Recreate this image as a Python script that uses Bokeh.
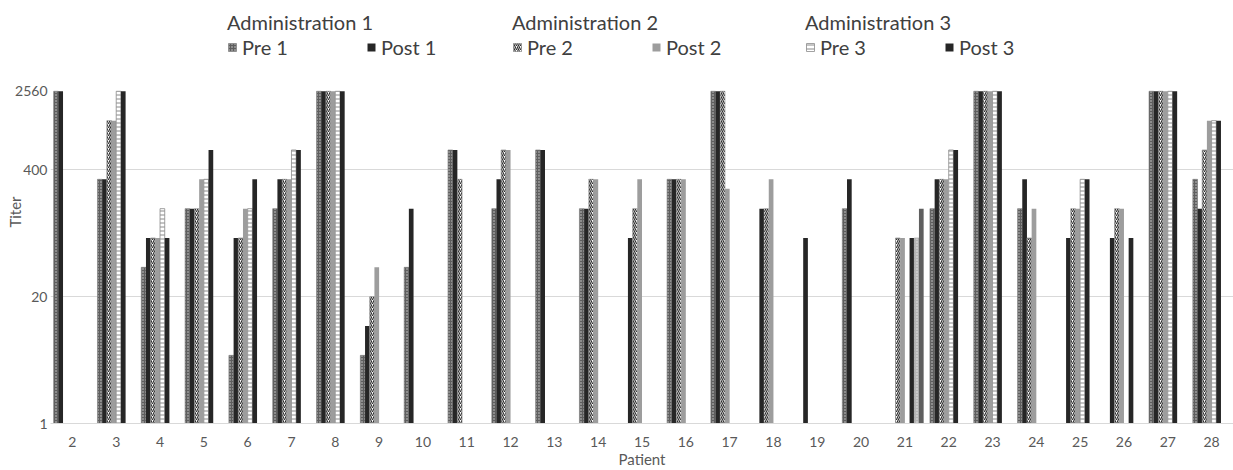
from bokeh.plotting import figure
from bokeh.models import (ColumnDataSource, FactorRange, Range1d, FixedTicker,
                          NumeralTickFormatter, Legend, LegendItem)
from bokeh.transform import dodge
from bokeh.embed import file_html
from bokeh.resources import INLINE

# Patients on the x axis
patients = ["2", "3", "4", "5", "6", "7", "8", "9", "10", "11", "12", "13", "14",
            "15", "16", "17", "18", "19", "20", "21", "22", "23", "24", "25", "26",
            "27", "28"]

# Titers per administration (None = not measured)
pre1 = [2560, 320, 40, 160, 5, 160, 2560, 5, 40, 640, 160, 640, 160,
        None, 320, 2560, None, None, 160, None, 160, 2560, 160, None, None, 2560, 320]
post1 = [2560, 320, 80, 160, 80, 320, 2560, 10, 160, 640, 320, 640, 160,
         80, 320, 2560, 160, 80, 320, None, 320, 2560, 320, 80, 80, 2560, 160]
pre2 = [None, 1280, 80, 160, 80, 320, 2560, 20, None, 320, 640, None, 320,
        160, 320, 2560, 160, None, None, 80, 320, 2560, 80, 160, 160, 2560, 640]
post2 = [None, 1280, 80, 320, 160, 320, 2560, 40, None, None, 640, None, 320,
         320, 320, 256, 320, None, None, 80, 320, 2560, 160, 160, 160, 2560, 1280]
pre3 = [None, 2560, 160, 320, 160, 640, 2560, None, None, None, None, None, None,
        None, None, None, None, None, None, None, 640, 2560, None, 320, None, 2560, 1280]
post3 = [None, 2560, 80, 640, 320, 640, 2560, None, None, None, None, None, None,
         None, None, None, None, None, None, 80, 640, 2560, None, 320, 80, 2560, 1280]
pre4 = [None, None, None, None, None, None, None, None, None, None, None, None, None,
        None, None, None, None, None, None, 80, None, None, None, None, None, None, None]
post4 = [None, None, None, None, None, None, None, None, None, None, None, None, None,
         None, None, None, None, None, None, 160, None, None, None, None, None, None, None]

y_ticks = [1, 20, 400, 2560]
grid_ticks = [1, 20, 400]

FONT = "Lato"
AXIS_TXT = "#595959"
LEG_TXT = "#404040"
GRID = "#d9d9d9"

# The frame runs to the top of the canvas so the legends can sit inside it;
# the top tick (2560) lands 91 px below the top edge.
FRAME_TOP, TICK_TOP, FRAME_BOTTOM = 0, 91, 424
y_end = 2560 ** ((FRAME_BOTTOM - FRAME_TOP) / (FRAME_BOTTOM - TICK_TOP))

p = figure(width=1233, height=470,
           x_range=FactorRange(*patients), y_range=Range1d(1, y_end),
           y_axis_type="log", output_backend="svg", toolbar_location=None,
           min_border_left=50, min_border_right=0, min_border_top=FRAME_TOP,
           min_border_bottom=470 - FRAME_BOTTOM, outline_line_color=None)

slot = 0.107  # width of one bar, in category units

styles = [
    dict(fill_color="#5e5e5e", hatch_pattern="dot", hatch_color="#d4d4d4",
         hatch_scale=3, hatch_weight=1, line_color="#7a7a7a", line_width=0.6),
    dict(fill_color="#262626", line_color=None),
    dict(fill_color="white", hatch_pattern="right_diagonal_line", hatch_color="#303030",
         hatch_scale=4, hatch_weight=1.2, line_color="#7f7f7f", line_width=0.6),
    dict(fill_color="#9d9d9d", line_color=None),
    dict(fill_color="white", hatch_pattern="horizontal_line", hatch_color="#8a8a8a",
         hatch_scale=4, hatch_weight=1, line_color="#8a8a8a", line_width=0.8),
    dict(fill_color="#262626", line_color=None),
    dict(fill_color="#b5b5b5", hatch_pattern="dot", hatch_color="#e6e6e6",
         hatch_scale=3, hatch_weight=1, line_color="#a0a0a0", line_width=0.6),
    dict(fill_color="#5f5f5f", line_color=None),
]
series = [pre1, post1, pre2, post2, pre3, post3, pre4, post4]

renderers = []
for i, (vals, st) in enumerate(zip(series, styles)):
    xs = [pt for pt, v in zip(patients, vals) if v is not None]
    ys = [v for v in vals if v is not None]
    src = ColumnDataSource(dict(patient=xs, titer=ys))
    r = p.vbar(x=dodge("patient", (i - 3.5) * slot, range=p.x_range), top="titer",
               bottom=1, width=slot, source=src, **st)
    renderers.append(r)

# Axes
p.xaxis.axis_label = "Patient"
p.xaxis.axis_label_text_font = FONT
p.xaxis.axis_label_text_font_size = "15px"
p.xaxis.axis_label_text_font_style = "normal"
p.xaxis.axis_label_text_color = AXIS_TXT
p.xaxis.axis_label_standoff = 0
p.xaxis.major_label_text_font = FONT
p.xaxis.major_label_text_font_size = "14px"
p.xaxis.major_label_text_color = AXIS_TXT
p.xaxis.major_label_standoff = 7
p.xaxis.axis_line_color = GRID
p.xaxis.major_tick_line_color = None
p.xaxis.minor_tick_line_color = None

p.yaxis.ticker = FixedTicker(ticks=y_ticks)
p.yaxis.formatter = NumeralTickFormatter(format="0")
p.yaxis.major_label_text_font = FONT
p.yaxis.major_label_text_font_size = "14px"
p.yaxis.major_label_text_color = AXIS_TXT
p.yaxis.major_label_standoff = -3
p.yaxis.axis_line_color = None
p.yaxis.major_tick_line_color = None
p.yaxis.minor_tick_line_color = None
p.yaxis.axis_label = "Titer"
p.yaxis.axis_label_text_font = FONT
p.yaxis.axis_label_text_font_size = "15px"
p.yaxis.axis_label_text_font_style = "normal"
p.yaxis.axis_label_text_color = AXIS_TXT
p.yaxis.axis_label_standoff = -12

p.xgrid.grid_line_color = None
p.ygrid.ticker = FixedTicker(ticks=grid_ticks)
p.ygrid.grid_line_color = GRID
p.ygrid.grid_line_width = 1

# Three legends, one per administration
names = ["Pre 1", "Post 1", "Pre 2", "Post 2", "Pre 3", "Post 3"]
titles = ["Administration 1", "Administration 2", "Administration 3"]
leg_x = [177, 462, 755]
for k in range(3):
    items = [LegendItem(label=names[2 * k], renderers=[renderers[2 * k]]),
             LegendItem(label=names[2 * k + 1], renderers=[renderers[2 * k + 1]])]
    leg = Legend(items=items, title=titles[k], location=(leg_x[k], 364),
                 orientation="horizontal",
                 title_text_font=FONT, title_text_font_size="20px",
                 title_text_font_style="normal", title_text_color=LEG_TXT,
                 title_standoff=1,
                 label_text_font=FONT, label_text_font_size="20px",
                 label_text_color=LEG_TXT,
                 glyph_width=10, glyph_height=10, label_standoff=5,
                 label_width=124, spacing=0, padding=0, margin=0,
                 border_line_color=None, background_fill_alpha=0)
    p.add_layout(leg)

open("out.html", "w").write(file_html(p, INLINE))
